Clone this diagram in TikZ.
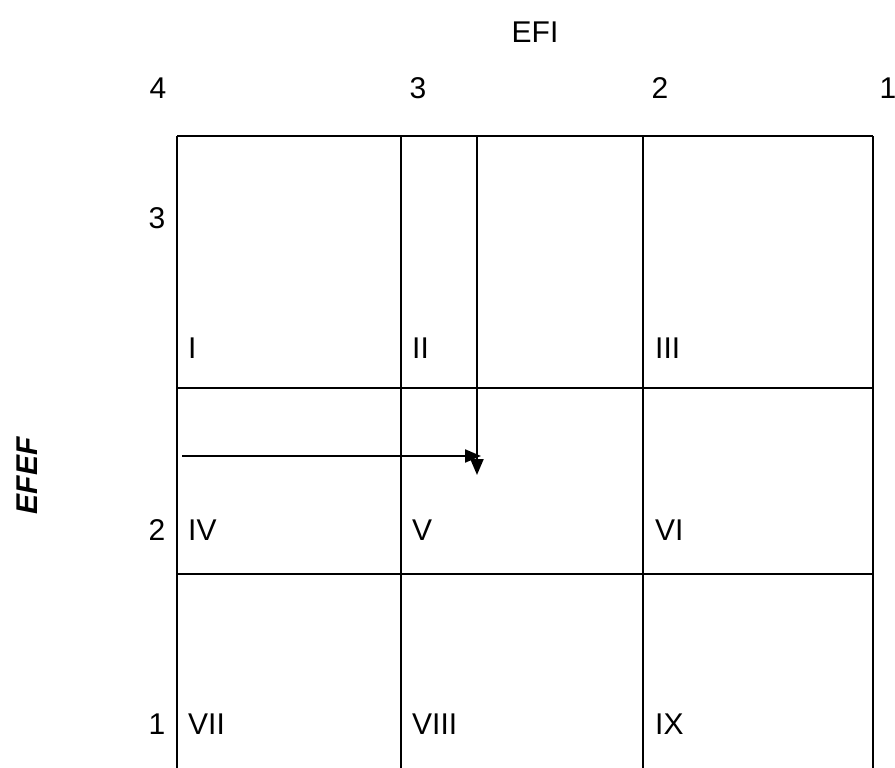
\documentclass[tikz,border=0pt]{standalone}
\usepackage{fontspec}
\setmainfont{Liberation Sans}
\usetikzlibrary{arrows.meta}
\tikzset{
  gridline/.style={black, line width=2.7pt},
  flowline/.style={black, line width=2.2pt, -{Triangle[length=16pt,width=13pt]}},
  axislabel/.style={inner sep=0pt, font=\fontsize{30}{36}\selectfont},
  cellname/.style={inner sep=0pt, anchor=west, font=\fontsize{30}{36}\selectfont}
}
\begin{document}
\begin{tikzpicture}[x=1pt,y=-1pt]
        \useasboundingbox (0,0) rectangle (895,768);
        % grid
        \draw [gridline] (177,136) -- (873,136);
        \draw [gridline] (177,388) -- (873,388);
        \draw [gridline] (177,574) -- (873,574);
        \foreach \gx in {177,401,643,873}
          \draw [gridline] (\gx,136) -- (\gx,772);
        % axis titles
        \node [axislabel] (efi) at (535,32) {EFI};
        \node [axislabel, rotate=90, font=\fontsize{30}{36}\selectfont\bfseries\itshape] (efef) at (27,476) {EFEF};
        % column numbers
        \node [axislabel] (c4) at (158,88) {4};
        \node [axislabel] (c3) at (418,88) {3};
        \node [axislabel] (c2) at (660,88) {2};
        \node [axislabel] (c1) at (888,88) {1};
        % row numbers
        \node [axislabel] (r3) at (157,218) {3};
        \node [axislabel] (r2) at (157,530) {2};
        \node [axislabel] (r1) at (157,724) {1};
        % cells
        \node [cellname] (cI) at (188,348) {I};
        \node [cellname] (cII) at (412,348) {II};
        \node [cellname] (cIII) at (655,348) {III};
        \node [cellname] (cIV) at (188,530) {IV};
        \node [cellname] (cV) at (412,530) {V};
        \node [cellname] (cVI) at (655,530) {VI};
        \node [cellname] (cVII) at (188,724) {VII};
        \node [cellname] (cVIII) at (412,724) {VIII};
        \node [cellname] (cIX) at (655,724) {IX};
        % movement
        \coordinate (hstart) at (182,456);
        \coordinate (hend) at (481,456);
        \coordinate (vstart) at (477,136);
        \coordinate (vend) at (477,475);
        \draw [flowline] (hstart) -- (hend);
        \draw [flowline] (vstart) -- (vend);
\end{tikzpicture}
\end{document}
